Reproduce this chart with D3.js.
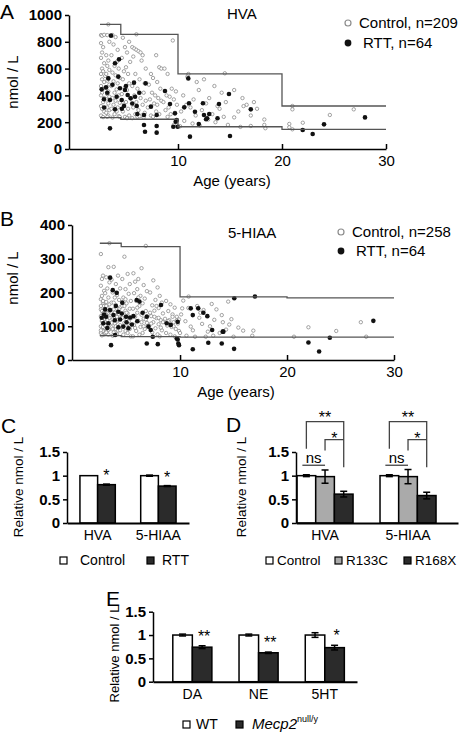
<!DOCTYPE html>
<html><head><meta charset="utf-8">
<script src="https://cdn.jsdelivr.net/npm/d3@7"></script>
<style>
body{margin:0;background:#fff;}
svg{display:block;font-family:"Liberation Sans",Arial,sans-serif;}
</style></head><body>
<svg id="c" width="459" height="732"></svg>
<script>
// ---------------- DATA ----------------
// Panel A: HVA (age in years, nmol/L)
const hvaControl = [
[2.6,850],[2.7,845],[2.9,852],[2.6,790],[2.8,760],[2.7,720],[2.6,680],[2.9,640],[2.7,600],[2.8,580],[2.6,560],[3.0,545],[2.7,520],[2.9,500],[2.6,470],[2.8,450],[2.7,420],[2.6,400],[2.9,380],[2.8,350],[2.6,320],[2.7,300],[2.9,280],[2.6,250],[2.8,238],
[3.3,930],[3.2,850],[3.4,800],[3.1,700],[3.3,660],[3.2,620],[3.4,590],[3.1,560],[3.3,530],[3.2,510],[3.4,480],[3.1,455],[3.3,430],[3.2,410],[3.4,390],[3.1,370],[3.3,340],[3.2,310],[3.4,290],[3.1,270],[3.3,250],[3.2,240],
[3.7,850],[4.0,835],[3.8,780],[4.2,740],[3.6,700],[4.1,650],[3.9,620],[4.3,600],[3.7,570],[4.0,550],[4.4,530],[3.8,505],[4.2,490],[3.6,470],[4.1,445],[3.9,420],[4.3,400],[3.7,380],[4.0,360],[4.4,345],[3.8,330],[4.2,310],[3.6,300],[4.1,280],[3.9,260],[4.3,245],[3.7,235],[4.4,240],
[4.7,830],[5.3,800],[4.9,760],[5.1,720],[4.6,680],[5.4,650],[5.0,610],[4.8,580],[5.2,560],[4.7,520],[5.3,490],[4.9,460],[5.1,440],[4.6,410],[5.4,380],[5.0,350],[4.8,330],[5.2,300],[4.7,280],[5.3,250],[4.9,240],[5.1,230],
[6.0,856],[5.6,760],[5.8,750],[6.0,740],[6.2,730],[6.4,720],[6.6,700],[5.7,690],[6.5,660],[6.9,600],[5.9,560],[6.3,520],[6.8,490],[5.6,470],[6.1,450],[6.7,420],[5.8,400],[6.4,380],[6.9,360],[6.0,350],[6.6,330],[5.7,310],[6.2,290],[6.8,270],[5.9,260],[6.5,250],[6.1,240],[6.7,235],[5.6,230],[6.3,245],
[7.9,700],[8.2,610],[8.4,600],[7.4,560],[7.6,530],[8.0,500],[7.2,480],[8.3,450],[7.5,420],[7.8,400],[8.1,380],[7.3,370],[8.4,360],[7.7,340],[8.0,330],[7.1,310],[7.9,280],[8.2,260],[7.4,250],[7.6,240],
[9.5,810],[8.7,600],[9.0,560],[9.4,450],[9.8,430],[8.9,400],[9.2,390],[9.6,370],[8.6,350],[9.9,330],[9.1,310],[8.8,290],[9.7,270],[9.3,260],[9.0,240],[9.9,210],[9.6,180],
[11.0,560],[10.9,540],[12.5,520],[11.8,500],[13.5,470],[12.0,440],[14.2,420],[10.5,400],[13.0,380],[11.5,370],[14.6,350],[12.7,340],[10.8,330],[13.8,320],[11.2,310],[14.0,300],[12.3,290],[10.3,280],[13.3,260],[11.7,250],[14.4,240],[12.9,220],[10.6,210],[13.6,200],[11.4,190],[14.8,180],[12.1,175],[10.2,170],
[14.5,565],[15.4,440],[16.2,380],[17.3,350],[16.6,330],[16.3,320],[17.6,300],[15.8,280],[17.0,250],[15.4,236],[18.3,220],[18.3,180],[16.0,165],[17.0,172],[18.4,155],
[21.0,321],[21.0,296],[22.0,196],[20.7,187],[20.7,162],[21.0,147],[24.6,254],[26.9,296]
];
const hvaRTT = [
[3.56,846],[3.94,640],[4.33,669],[3.30,527],[4.26,540],[2.66,445],[3.08,460],[3.46,366],[3.94,296],[2.88,371],[4.9,440],[5.16,403],[5.45,378],[5.77,495],[5.87,390],[4.59,366],[4.81,321],[4.42,453],[6.03,321],[6.28,420],[6.89,490],[6.73,254],[6.09,261],[6.73,179],[6.83,129],[7.95,172],[7.95,122],[3.46,154],[7.4,316],[7.95,254],[8.75,433],[9.23,336],[9.71,266],[9.78,204],[9.55,166],[9.97,166],[10.6,311],[10.99,527],[11.06,341],[11.15,92],[11.63,278],[12.0,187],[12.5,254],[12.8,229],[13.94,336],[13.8,229],[15.0,97],[14.9,410],[17.0,296],[21.99,142],[22.95,112],[24.04,184],[27.98,236],[12.4,341],[13.0,261],[12.7,222],[9.87,216],
[3.2,420],[3.7,480],[4.1,390],[5.0,470],[2.9,310],[5.6,340],[4.6,300]
];
const ageBreaks = [2.5, 4.5, 10, 20, 30];
const hvaUpper = [930, 856, 560, 321];
const hvaLower = [234, 222, 166, 147];

// Panel B: 5-HIAA
const hiaaControl = [
[2.6,314],[2.8,250],[2.7,240],[2.6,220],[2.9,205],[2.7,190],[2.6,180],[2.8,170],[2.9,160],[2.6,150],[2.7,145],[2.8,138],[2.6,130],[2.9,122],[2.7,115],[2.8,108],[2.6,100],[2.9,95],[2.7,90],[2.8,85],[2.6,80],[2.9,76],[2.7,73],[2.8,175],[2.6,160],[2.9,140],[2.7,118],[2.8,98],[2.6,88],[2.9,110],
[3.4,346],[3.3,275],[3.1,245],[3.4,230],[3.2,212],[3.0,198],[3.3,185],[3.1,172],[3.4,165],[3.2,155],[3.0,148],[3.3,140],[3.1,133],[3.4,125],[3.2,118],[3.0,112],[3.3,105],[3.1,98],[3.4,92],[3.2,86],[3.0,80],[3.3,75],[3.1,160],[3.4,145],[3.2,128],[3.0,102],[3.3,90],[3.1,82],
[3.8,276],[4.2,250],[3.6,238],[4.0,225],[4.4,212],[3.7,200],[4.1,192],[3.9,185],[4.3,178],[3.6,170],[4.0,163],[4.4,156],[3.8,150],[4.2,144],[3.6,138],[4.0,132],[4.3,126],[3.7,120],[4.1,114],[3.9,108],[4.4,103],[3.6,97],[4.0,92],[4.2,87],[3.8,82],[4.1,76],[3.7,72],[4.3,150],[3.9,140],[4.2,120],[3.6,110],[4.0,100],[4.4,88],[3.8,170],[4.1,128],[3.7,92],
[4.8,306],[5.1,255],[4.6,240],[5.3,225],[4.9,210],[5.2,196],[4.7,185],[5.4,175],[5.0,168],[4.6,160],[5.3,152],[4.9,146],[5.1,138],[4.7,130],[5.4,124],[5.0,118],[4.8,110],[5.2,104],[4.6,98],[5.3,92],[4.9,86],[5.1,80],[4.7,75],[5.4,70],[5.0,140],[4.8,160],[5.2,115],[4.6,125],[5.3,100],[4.9,180],
[6.8,338],[6.4,272],[5.64,257],[6.1,240],[5.8,232],[6.6,222],[6.0,210],[6.9,204],[5.7,198],[6.3,190],[6.7,182],[5.9,175],[6.5,168],[6.2,160],[5.6,152],[6.8,145],[6.0,140],[6.4,134],[5.8,128],[6.6,122],[6.1,116],[6.9,110],[5.7,104],[6.3,98],[6.7,92],[5.9,86],[6.5,80],[6.2,75],[5.6,70],[6.8,120],[6.0,155],[6.4,112],[5.8,95],[6.6,100],[6.1,185],[6.9,130],
[7.5,236],[7.9,215],[7.2,200],[8.1,190],[7.7,178],[8.3,170],[7.4,162],[8.0,154],[7.6,146],[8.4,138],[7.3,130],[7.8,124],[8.2,118],[7.5,112],[8.0,106],[7.1,100],[7.7,94],[8.3,88],[7.4,82],[7.9,76],[8.1,70],[7.6,128],[8.4,112],[7.2,140],[8.2,96],[7.8,160],[7.3,108],[8.0,125],
[8.7,175],[9.1,165],[9.5,155],[8.9,145],[9.3,135],[9.7,128],[8.6,122],[9.0,118],[9.4,112],[9.8,108],[8.8,102],[9.2,98],[9.6,92],[9.9,86],[8.7,80],[9.1,75],[9.5,70],[9.3,128],[8.9,115],[9.7,118],[9.4,100],[9.9,120],
[10.8,188],[10.3,176],[10.78,154],[10.2,153],[10.1,135],[11.0,99],[10.0,80],[12.96,166],[13.2,119],[12.06,107],[13.7,80],[12.4,69],[11.4,69],[12.6,84],[14.5,173],[13.9,133],[14.0,112],[14.8,121],[11.6,160],[12.2,148],[11.8,125],[13.4,150],[10.5,115],[12.8,100],[14.3,90],[11.2,88],[13.1,72],[10.6,72],[14.6,105],[11.9,140],
[15.0,69],[15.45,96],[15.9,87],[16.85,87],[16.75,72],
[20.65,69],[22.0,97],[24.6,86],[26.9,112],[27.4,69]
];
const hiaaRTT = [
[3.46,244],[3.71,207],[4.08,199],[2.68,125],[3.08,128],[3.3,109],[2.83,109],[3.46,148],[3.77,133],[4.23,143],[4.55,138],[4.95,128],[5.33,126],[5.64,130],[5.95,178],[6.2,173],[4.7,99],[5.17,94],[4.23,97],[3.93,74],[3.55,44],[6.89,128],[7.04,99],[7.26,89],[6.89,49],[7.92,47],[7.45,69],[8.22,163],[8.75,109],[9.13,104],[9.69,64],[9.84,49],[11.0,153],[11.19,133],[11.7,153],[12.18,140],[12.55,130],[11.19,32],[12.64,51],[13.0,89],[13.9,49],[13.99,84],[9.78,113],[14.05,84],[9.78,61],[9.9,44],[15.05,33],[15.07,183],[17.0,188],[22.0,52],[24.0,66],[23.0,25],[28.07,116],
[3.0,150],[3.9,118],[4.4,120],[5.0,112],[5.5,105],[3.2,95],[4.0,160],[6.5,140],[2.9,135],[4.6,170],[6.0,115]
];
const hiaaUpper = [346, 336, 187, 184];
const hiaaLower = [72, 69, 68, 68];

const yTicksA = [0, 200, 400, 600, 800, 1000];
const yTicksB = [0, 100, 200, 300, 400];
const xTicksAge = [10, 20, 30];

// Panel C
const cCats = ["HVA", "5-HIAA"];
const cSeries = ["Control", "RTT"];
const cControl = [1.0, 1.0];
const cControlErr = [0.0, 0.012];
const cRTT = [0.81, 0.78];
const cRTTErr = [0.012, 0.01];

// Panel D
const dCats = ["HVA", "5-HIAA"];
const dSeries = ["Control", "R133C", "R168X"];
const dControl = [1.0, 1.0];
const dControlErr = [0.02, 0.02];
const dR133C = [0.98, 0.98];
const dR133CErr = [0.14, 0.15];
const dR168X = [0.61, 0.58];
const dR168XErr = [0.06, 0.07];

// Panel E
const eCats = ["DA", "NE", "5HT"];
const eSeries = ["WT", "Mecp2"];
const eWT = [1.0, 1.0, 1.0];
const eWTErr = [0.02, 0.02, 0.05];
const eMecp2 = [0.74, 0.62, 0.73];
const eMecp2Err = [0.03, 0.015, 0.05];
const yTicksBar = [0, 0.5, 1, 1.5];
const yTickLabelsBar = ["0", "0.5", "1", "1.5"];

// ---------------- DRAW ----------------
const svg = d3.select("#c");
const FONT = '"Liberation Sans",Arial,sans-serif';

function styleAxis(g, size, weight){
  g.attr("font-family", FONT);
  g.selectAll("text").attr("font-size", size).attr("font-weight", weight).attr("fill", "#000");
  g.selectAll("path,line").attr("stroke", "#000").attr("stroke-width", 1.5);
}

function txt(x, y, s, opt={}){
  const t = svg.append("text").attr("x", x).attr("y", y).text(s)
    .attr("font-family", FONT).attr("font-size", opt.size || 15)
    .attr("font-weight", opt.weight || "normal")
    .attr("text-anchor", opt.anchor || "start").attr("fill", opt.fill || "#000");
  if (opt.rotate) t.attr("transform", `rotate(-90,${x},${y})`);
  return t;
}

function scatterPanel(o){
  const g = svg.append("g");
  const x = d3.scaleLinear().domain(o.xDomain).range(o.xRange);
  const y = d3.scaleLinear().domain(o.yDomain).range(o.yRange);
  g.selectAll("circle.ctl").data(o.control).join("circle").attr("class","ctl")
    .attr("cx", d => x(d[0])).attr("cy", d => y(d[1])).attr("r", 1.7)
    .attr("fill", "#fff").attr("stroke", "#8c8c8c").attr("stroke-width", 0.8);
  g.selectAll("circle.rtt").data(o.rtt).join("circle").attr("class","rtt")
    .attr("cx", d => x(d[0])).attr("cy", d => y(d[1])).attr("r", 2.3)
    .attr("fill", "#111");
  const line = d3.line().x(d => x(d[0])).y(d => y(d[1])).curve(d3.curveStepAfter);
  [o.upper, o.lower].forEach(lim => {
    const pts = ageBreaks.map((b, i) => [b, lim[Math.min(i, lim.length - 1)]]);
    g.append("path").attr("d", line(pts)).attr("fill", "none")
      .attr("stroke", "#555").attr("stroke-width", 1.3);
  });
  const ya = g.append("g").attr("transform", `translate(${o.xRange[0]},0)`)
    .call(d3.axisLeft(y).tickValues(o.yTicks).tickFormat(d3.format("d")).tickSize(4).tickSizeOuter(0).tickPadding(3));
  styleAxis(ya, 15, "bold");
  const xa = g.append("g").attr("transform", `translate(0,${o.yRange[0]})`)
    .call(d3.axisBottom(x).tickValues(xTicksAge).tickSize(-5).tickSizeOuter(0).tickPadding(6));
  styleAxis(xa, 15, "normal");
  txt(o.ylabX, o.ylabY, "nmol / L", {rotate: true, anchor: "middle"});
  txt(o.xlabX, o.xlabY, "Age (years)", {anchor: "middle"});
  txt(o.titleX, o.titleY, o.title);
  svg.append("circle").attr("cx", o.legX).attr("cy", o.legY1).attr("r", 3)
    .attr("fill", "#fff").attr("stroke", "#8c8c8c").attr("stroke-width", 1.2);
  txt(o.legX + 11, o.legY1 + 5, o.leg1);
  svg.append("circle").attr("cx", o.legX).attr("cy", o.legY2).attr("r", 3.4).attr("fill", "#111");
  txt(o.legX + 15, o.legY2 + 5, o.leg2);
}

scatterPanel({
  xDomain: [-0.48, 30], xRange: [69, 386], yDomain: [0, 1000], yRange: [149, 15],
  control: hvaControl, rtt: hvaRTT, upper: hvaUpper, lower: hvaLower, yTicks: yTicksA,
  ylabX: 18, ylabY: 82, xlabX: 232, xlabY: 186, title: "HVA", titleX: 227, titleY: 19,
  legX: 348, legY1: 23, legY2: 43, leg1: "Control, n=209", leg2: "RTT, n=64"
});
scatterPanel({
  xDomain: [-0.1, 30], xRange: [72, 394], yDomain: [0, 400], yRange: [360, 225],
  control: hiaaControl, rtt: hiaaRTT, upper: hiaaUpper, lower: hiaaLower, yTicks: yTicksB,
  ylabX: 18, ylabY: 278, xlabX: 236, xlabY: 397, title: "5-HIAA", titleX: 228, titleY: 238,
  legX: 341, legY1: 232, legY2: 251, leg1: "Control, n=258", leg2: "RTT, n=64"
});

// panel letters
txt(0, 19, "A", {size: 21});
txt(0, 226, "B", {size: 21});
txt(1, 433, "C", {size: 21});
txt(226, 432, "D", {size: 21});
txt(106, 606, "E", {size: 21});

const fills = {Control: "#fff", RTT: "#2b2b2b", R133C: "#aaa", R168X: "#2b2b2b", WT: "#fff", Mecp2: "#2b2b2b"};

function barPanel(o){
  const g = svg.append("g");
  const y = d3.scaleLinear().domain([0, 1.5]).range([o.y0, o.y1]);
  const x0 = d3.scaleBand().domain(o.cats).range(o.xRange)
    .paddingInner(o.pi).paddingOuter(o.po).align(o.align);
  const x1 = d3.scaleBand().domain(o.series).range([0, x0.bandwidth()]);
  const bars = [];
  o.cats.forEach((c, ci) => o.series.forEach((s, si) => {
    bars.push({c, s, v: o.values[si][ci], e: o.errors[si][ci],
      x: x0(c) + x1(s), w: x1.bandwidth()});
  }));
  g.selectAll("rect").data(bars).join("rect")
    .attr("x", d => d.x).attr("y", d => y(d.v)).attr("width", d => d.w)
    .attr("height", d => y(0) - y(d.v)).attr("fill", d => fills[d.s])
    .attr("stroke", "#000").attr("stroke-width", 1.5);
  bars.filter(d => d.e > 0.005).forEach(d => {
    const cx = d.x + d.w / 2;
    g.append("line").attr("x1", cx).attr("x2", cx).attr("y1", y(d.v + d.e)).attr("y2", y(d.v - d.e))
      .attr("stroke", "#000").attr("stroke-width", 1.5);
    [d.v + d.e, d.v - d.e].forEach(v => g.append("line").attr("x1", cx - 3.5).attr("x2", cx + 3.5)
      .attr("y1", y(v)).attr("y2", y(v)).attr("stroke", "#000").attr("stroke-width", 1.5));
  });
  const ya = g.append("g").attr("transform", `translate(${o.xRange[0]},0)`)
    .call(d3.axisLeft(y).tickValues(yTicksBar).tickFormat((d, i) => yTickLabelsBar[i])
      .tickSize(4).tickSizeOuter(0).tickPadding(3));
  styleAxis(ya, 15, "bold");
  const xa = g.append("g").attr("transform", `translate(0,${o.y0})`)
    .call(d3.axisBottom(x0).tickSize(0).tickSizeOuter(0).tickPadding(7));
  styleAxis(xa, 14, "normal");
  xa.select(".domain").attr("stroke-width", 2);
  txt(o.ylabX, o.ylabY, "Relative nmol / L", {rotate: true, anchor: "middle", size: o.ylabSize || 13.5});
  return {x0, x1, y, bars};
}

// C
const C = barPanel({cats: cCats, series: cSeries, values: [cControl, cRTT], errors: [cControlErr, cRTTErr],
  xRange: [67, 189], y0: 523, y1: 452, pi: 0.418, po: 0.213, align: 0.5, ylabX: 23, ylabY: 487});
C.bars.filter(d => d.s === "RTT").forEach(d => txt(d.x + d.w / 2, C.y(d.v + d.e) - 3, "*", {size: 16, anchor: "middle"}));
svg.append("rect").attr("x", 60).attr("y", 557).attr("width", 7).attr("height", 7).attr("fill", "#fff").attr("stroke", "#000").attr("stroke-width", 1.2);
txt(80, 565, "Control", {size: 14});
svg.append("rect").attr("x", 147).attr("y", 557).attr("width", 7).attr("height", 7).attr("fill", "#2b2b2b").attr("stroke", "#000").attr("stroke-width", 1.2);
txt(162, 565, "RTT", {size: 14});

// D
const D = barPanel({cats: dCats, series: dSeries, values: [dControl, dR133C, dR168X], errors: [dControlErr, dR133CErr, dR168XErr],
  xRange: [296, 458], y0: 523, y1: 452, pi: 0.325, po: 0.1386, align: 0.045, ylabX: 246, ylabY: 487});
const bigTop = 2.14, bigLeftBot = 1.57, bigRightBot = 1.18, smallTop = 1.76, smallBot = 1.53, nsLevel = 1.22;
dCats.forEach(c => {
  const cx = s => D.x0(c) + D.x1(s) + D.x1.bandwidth() / 2;
  const y = D.y;
  const p = `M${cx("Control")},${y(bigLeftBot)}V${y(bigTop)}H${cx("R168X")}V${y(bigRightBot)}` +
            `M${cx("R133C")},${y(smallBot)}V${y(smallTop)}H${cx("R168X")}`;
  svg.append("path").attr("d", p).attr("fill", "none").attr("stroke", "#444").attr("stroke-width", 1.3);
  txt((cx("Control") + cx("R168X")) / 2, y(bigTop) + 1, "**", {size: 16, anchor: "middle"});
  txt((cx("R133C") + cx("R168X")) / 2, y(smallTop) + 4, "*", {size: 16, anchor: "middle"});
  svg.append("line").attr("x1", cx("Control") - 4).attr("x2", cx("R133C")).attr("y1", y(nsLevel)).attr("y2", y(nsLevel))
    .attr("stroke", "#444").attr("stroke-width", 1.3);
  txt((cx("Control") + cx("R133C")) / 2 - 2, y(nsLevel) - 2, "ns", {size: 15, anchor: "middle"});
});
[["Control", 266, 277], ["R133C", 335, 346], ["R168X", 404, 415]].forEach(([s, sx, tx]) => {
  svg.append("rect").attr("x", sx).attr("y", 557).attr("width", 7).attr("height", 7).attr("fill", fills[s]).attr("stroke", "#000").attr("stroke-width", 1.2);
  txt(tx, 565, s, {size: 13.5});
});

// E
const E = barPanel({cats: eCats, series: eSeries, values: [eWT, eMecp2], errors: [eWTErr, eMecp2Err],
  xRange: [153, 357], y0: 681.7, y1: 611.7, pi: 0.41, po: 0.245, align: 0.61, ylabX: 119, ylabY: 654, ylabSize: 13});
const eStars = ["**", "**", "*"];
E.bars.filter(d => d.s === "Mecp2").forEach((d, i) => txt(d.x + d.w / 2 + 2, E.y(d.v + d.e) - 4, eStars[i], {size: 16, anchor: "middle"}));
svg.append("rect").attr("x", 183).attr("y", 721).attr("width", 7).attr("height", 7).attr("fill", "#fff").attr("stroke", "#000").attr("stroke-width", 1.2);
txt(196, 729, "WT", {size: 14});
svg.append("rect").attr("x", 236).attr("y", 721).attr("width", 7).attr("height", 7).attr("fill", "#2b2b2b").attr("stroke", "#000").attr("stroke-width", 1.2);
const mt = txt(252, 729, "", {size: 15});
mt.append("tspan").attr("font-style", "italic").text("Mecp2");
mt.append("tspan").attr("font-size", 9).attr("dy", -7).text("null/y");
</script></body></html>
